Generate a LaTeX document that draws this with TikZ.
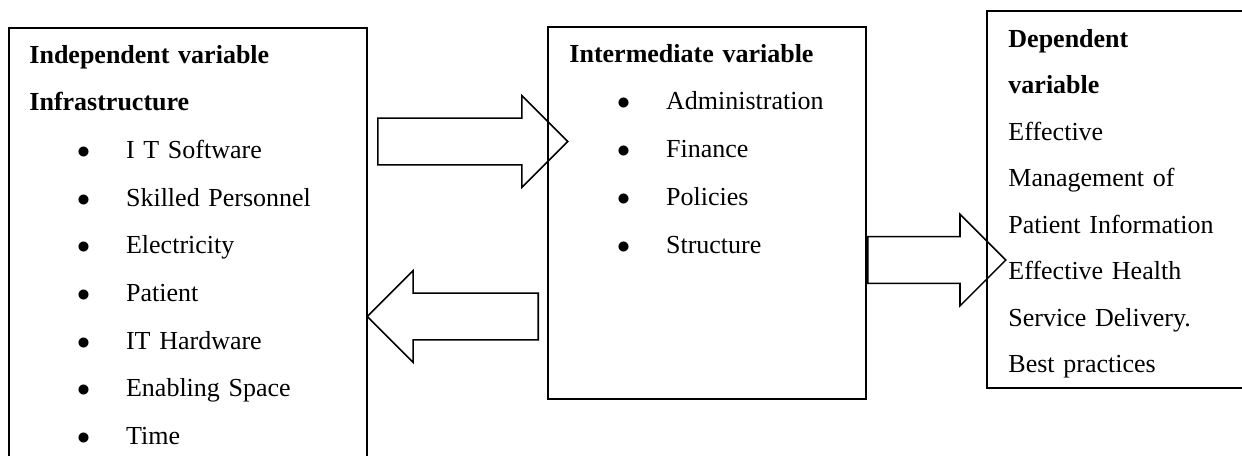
\documentclass[tikz,border=0pt]{standalone}
\usepackage{fontspec}
\setmainfont{Liberation Serif}
\usetikzlibrary{shapes.arrows, positioning}
\newcommand{\varitem}[1]{\hspace*{22pt}\makebox[22.6pt][l]{$\bullet$}#1}
\tikzset{
  varbox/.style={rectangle, draw=black, line width=0.9pt, inner sep=0pt},
  vartext/.style={anchor=base west, inner sep=0pt, align=left, font=\fontsize{12}{22}\selectfont},
  blockarrow/.style={single arrow, draw=black, line width=0.7pt, inner sep=0pt, text height=20.8pt, text depth=0pt, single arrow head extend=10.4pt}
}

\begin{document}
\begin{tikzpicture}[x=0.4615pt, y=-0.4615pt]
\useasboundingbox (0,0) rectangle (1242,455);
\clip (0,0) rectangle (1242,455);

% Variable boxes
\node[varbox, minimum width=165.2pt, minimum height=206.3pt] (indep) at (188,251.5) {};
\node[varbox, minimum width=146.8pt, minimum height=171.7pt] (inter) at (707,213) {};
\node[varbox, minimum width=130.6pt, minimum height=174pt] (dep) at (1128.5,199.5) {};

% Box texts
\node[vartext, text width=150pt] (indeptext) at (29,63) {\textbf{Independent variable}\\
  \textbf{Infrastructure}\\
  \varitem{I T Software}\\
  \varitem{Skilled Personnel}\\
  \varitem{Electricity}\\
  \varitem{Patient}\\
  \varitem{IT Hardware}\\
  \varitem{Enabling Space}\\
  \varitem{Time}};
\node[vartext, text width=140pt, font=\fontsize{12}{22.15}\selectfont] (intertext) at (569,62) {\textbf{Intermediate variable}\\
  \varitem{Administration}\\
  \varitem{Finance}\\
  \varitem{Policies}\\
  \varitem{Structure}};
\node[vartext, text width=120pt, font=\fontsize{12}{21.46}\selectfont] (deptext) at (1008,47) {\textbf{Dependent}\\
  \textbf{variable}\\
  Effective\\
  Management of\\
  Patient Information\\
  Effective Health\\
  Service Delivery.\\
  Best practices};

% Block arrows
\node[blockarrow, minimum height=87.7pt, anchor=tail] (arrowin) at (377,141.5) {};
\node[blockarrow, minimum height=78.9pt, shape border rotate=180, anchor=tail] (arrowback) at (539,316.5) {};
\node[blockarrow, minimum height=63.7pt, anchor=tail] (arrowout) at (inter.east |- 0,260) {};

\end{tikzpicture}
\end{document}
